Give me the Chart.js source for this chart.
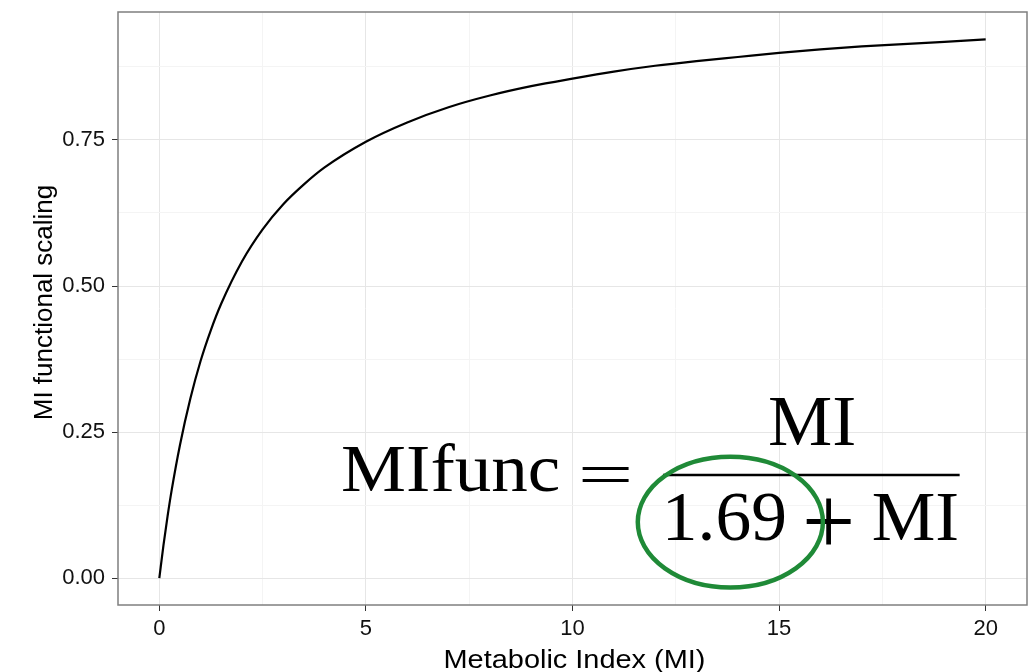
<!DOCTYPE html>
<html>
<head>
<meta charset="utf-8">
<script src="https://cdn.jsdelivr.net/npm/chart.js@4"></script>
<style>
  html, body { margin: 0; padding: 0; background: #fff; }
</style>
</head>
<body>
<canvas id="chart-mi" width="1029" height="672"></canvas>
<script>
// values
const miValues = [0, 0.1, 0.2, 0.3, 0.5, 0.75, 1, 1.25, 1.5, 2, 2.5, 3, 3.5, 4, 5, 6, 7, 8, 9, 10, 11, 12, 13, 14, 15, 16, 17, 18, 19, 20];
const scalingValues = [0, 0.056, 0.106, 0.151, 0.228, 0.307, 0.372, 0.425, 0.470, 0.542, 0.597, 0.640, 0.674, 0.703, 0.747, 0.780, 0.806, 0.826, 0.842, 0.855, 0.867, 0.877, 0.885, 0.892, 0.899, 0.905, 0.910, 0.914, 0.918, 0.922];

const xMajor = [0, 5, 10, 15, 20];
const xMinor = [2.5, 7.5, 12.5, 17.5];
const yMajor = [0, 0.25, 0.5, 0.75];
const yMinor = [0.125, 0.375, 0.625, 0.875];
const yLabels = ['0.00', '0.25', '0.50', '0.75'];

const xTitle = 'Metabolic Index (MI)';
const yTitle = 'MI functional scaling';

const SANS = '"Liberation Sans", Arial, Helvetica, sans-serif';
const SERIF = '"Liberation Serif", "Times New Roman", serif';

// draw text so its ink box fills the given pixel box
function fitBox(ctx, text, x0, x1, yTop, yBot) {
  const m = ctx.measureText(text);
  const w = m.actualBoundingBoxLeft + m.actualBoundingBoxRight;
  const h = m.actualBoundingBoxAscent + m.actualBoundingBoxDescent;
  const sx = (x1 - x0) / w;
  const sy = (yBot - yTop) / h;
  ctx.save();
  ctx.translate(x0 + m.actualBoundingBoxLeft * sx, yTop + m.actualBoundingBoxAscent * sy);
  ctx.scale(sx, sy);
  ctx.fillText(text, 0, 0);
  ctx.restore();
}

const decorPlugin = {
  id: 'decor',
  afterDraw(chart) {
    const ctx = chart.ctx;
    const a = chart.chartArea;
    const xs = chart.scales.x, ys = chart.scales.y;
    const X = v => xs.getPixelForValue(v);
    const Y = v => ys.getPixelForValue(v);

    // panel border
    ctx.save();
    ctx.strokeStyle = '#7f7f7f';
    ctx.lineWidth = 1.5;
    ctx.strokeRect(a.left, a.top, a.right - a.left, a.bottom - a.top);

    // equation
    ctx.fillStyle = '#000';
    ctx.font = '70px ' + SERIF;
    ctx.textAlign = 'left';
    ctx.textBaseline = 'alphabetic';
    fitBox(ctx, 'MIfunc', X(4.45), X(9.65), Y(0.2295), Y(0.1473));
    fitBox(ctx, '=', X(10.23), X(11.39), Y(0.1918), Y(0.1644));
    fitBox(ctx, 'MI', X(14.78), X(16.81), Y(0.3082), Y(0.2277));
    fitBox(ctx, '1.69', X(12.31), X(15.14), Y(0.1455), Y(0.0634));
    fitBox(ctx, '+', X(15.65), X(16.76), Y(0.1370), Y(0.0565));
    fitBox(ctx, 'MI', X(17.29), X(19.30), Y(0.1438), Y(0.0651));
    ctx.strokeStyle = '#000';
    ctx.lineWidth = 2.6;
    ctx.beginPath();
    ctx.moveTo(X(12.19), Y(0.1764));
    ctx.lineTo(X(19.37), Y(0.1764));
    ctx.stroke();

    // green ellipse around 1.69
    const cx = X(13.82), cy = Y(0.0959);
    ctx.strokeStyle = '#1f8a37';
    ctx.lineWidth = 4.5;
    ctx.beginPath();
    ctx.ellipse(cx, cy, X(13.82 + 2.24) - cx, cy - Y(0.0959 + 0.112), 0, 0, Math.PI * 2);
    ctx.stroke();

    // axis titles
    ctx.fillStyle = '#000';
    ctx.font = '25px ' + SANS;
    ctx.textAlign = 'center';
    const w = ctx.measureText(xTitle).width;
    ctx.save();
    ctx.translate((a.left + a.right) / 2 + 2, 668);
    ctx.scale(262 / w, 1);
    ctx.fillText(xTitle, 0, 0);
    ctx.restore();

    ctx.font = '26px ' + SANS;
    ctx.save();
    ctx.translate(52, (a.top + a.bottom) / 2 - 6);
    ctx.rotate(-Math.PI / 2);
    ctx.fillText(yTitle, 0, 0);
    ctx.restore();
    ctx.restore();
  }
};

const ctxMi = document.getElementById('chart-mi').getContext('2d');
new Chart(ctxMi, {
  type: 'line',
  data: {
    datasets: [{
      data: miValues.map((x, i) => ({ x: x, y: scalingValues[i] })),
      borderColor: '#000',
      borderWidth: 2.2,
      pointRadius: 0,
      fill: false,
      cubicInterpolationMode: 'monotone'
    }]
  },
  options: {
    responsive: false,
    animation: false,
    layout: { padding: { top: 12, right: 2, left: 0, bottom: 0 } },
    plugins: { legend: { display: false }, tooltip: { enabled: false } },
    scales: {
      x: {
        type: 'linear',
        min: -1,
        max: 21,
        afterBuildTicks: s => { s.ticks = xMajor.concat(xMinor).map(v => ({ value: v })); },
        afterFit: s => { s.height = 67; s.paddingLeft = 0; s.paddingRight = 0; },
        ticks: {
          autoSkip: false,
          maxRotation: 0,
          padding: 5,
          color: '#111',
          font: { family: SANS, size: 22 },
          callback: v => xMajor.includes(v) ? String(v) : ''
        },
        grid: {
          color: c => (c.tick && xMajor.includes(c.tick.value)) ? '#e6e6e6' : '#f4f4f4',
          tickColor: c => (c.tick && xMajor.includes(c.tick.value)) ? '#333' : 'rgba(0,0,0,0)',
          tickLength: 6,
          lineWidth: 1
        },
        border: { display: false }
      },
      y: {
        type: 'linear',
        min: -0.046,
        max: 0.969,
        afterBuildTicks: s => { s.ticks = yMajor.concat(yMinor).map(v => ({ value: v })); },
        afterFit: s => { s.width = 118; s.paddingTop = 0; s.paddingBottom = 0; },
        ticks: {
          autoSkip: false,
          padding: 7,
          color: '#111',
          font: { family: SANS, size: 22 },
          callback: v => { const i = yMajor.indexOf(v); return i >= 0 ? yLabels[i] : ''; }
        },
        grid: {
          color: c => (c.tick && yMajor.includes(c.tick.value)) ? '#e6e6e6' : '#f4f4f4',
          tickColor: c => (c.tick && yMajor.includes(c.tick.value)) ? '#333' : 'rgba(0,0,0,0)',
          tickLength: 6,
          lineWidth: 1
        },
        border: { display: false }
      }
    }
  },
  plugins: [decorPlugin]
});
</script>
</body>
</html>
